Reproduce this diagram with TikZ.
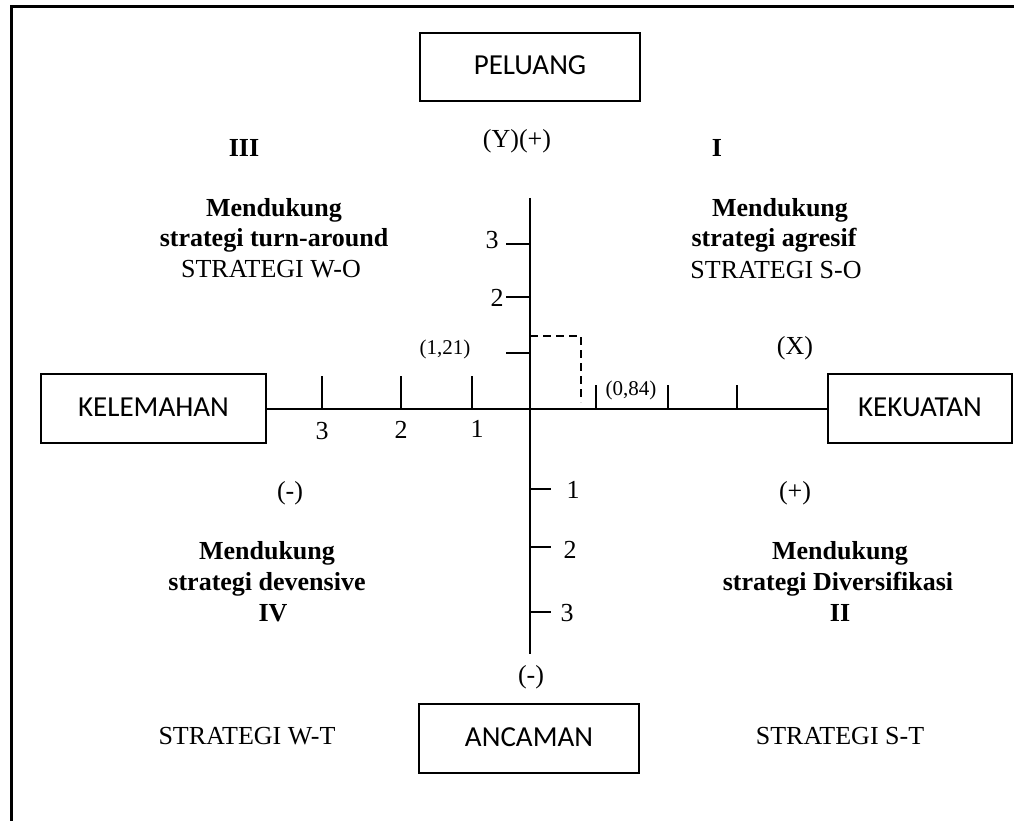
\documentclass[tikz,border=0pt]{standalone}
\usepackage{fontspec}
\setmainfont{Liberation Serif}
\newfontfamily\boxfont{Carlito}
\begin{document}
\begin{tikzpicture}[x=1pt,y=-1pt,
  box/.style={draw,line width=2pt,inner sep=0pt,font=\boxfont\fontsize{29}{32}\selectfont},
  txt/.style={inner sep=0pt,align=center,font=\fontsize{26}{30}\selectfont},
  btxt/.style={inner sep=0pt,align=center,font=\bfseries\fontsize{26}{30}\selectfont},
  small/.style={inner sep=0pt,font=\fontsize{21}{24}\selectfont},
  axis/.style={line width=2pt},
  tickline/.style={line width=1.8pt},
  dashline/.style={line width=2pt,dash pattern=on 8pt off 5pt}]
\useasboundingbox (0,0) rectangle (1014,821);
% frame (only top and left edges visible)
\draw[line width=3pt] (11,821) -- (11,7) -- (1014,7);
% boxes
\node[box,minimum width=220pt,minimum height=68pt] (pel) at (530,67) {\raisebox{3pt}{PELUANG}};
\node[box,minimum width=225pt,minimum height=69pt] (kel) at (153.5,408.5) {\raisebox{2pt}{KELEMAHAN}};
\node[box,minimum width=184pt,minimum height=69pt] (kek) at (920,408.5) {\raisebox{2pt}{KEKUATAN}};
\node[box,minimum width=220pt,minimum height=69pt] (anc) at (529,738.5) {\raisebox{3pt}{ANCAMAN}};
% axes
\coordinate (ytop) at (530,198);
\coordinate (ybot) at (530,654);
\draw[axis] (kel.east) -- (kek.west);
\draw[axis] (ytop) -- (ybot);
% ticks on Y (upper)
\draw[tickline] (506,244) -- (530,244);
\draw[tickline] (506,297) -- (530,297);
\draw[tickline] (506,353) -- (530,353);
% ticks on Y (lower)
\draw[tickline] (530,489) -- (551,489);
\draw[tickline] (530,547) -- (551,547);
\draw[tickline] (530,612) -- (551,612);
% ticks on X (left)
\draw[tickline] (322,376) -- (322,409);
\draw[tickline] (401,376) -- (401,409);
\draw[tickline] (472,376) -- (472,409);
% ticks on X (right)
\draw[tickline] (596,385) -- (596,409);
\draw[tickline] (668,385) -- (668,409);
\draw[tickline] (737,385) -- (737,409);
% dashed point
\draw[dashline] (530,336) -- (581,336) -- (581,402);
% tick labels
\node[txt] (y3) at (492,240) {3};
\node[txt] (y2) at (497,298) {2};
\node[txt] (yl1) at (573,490) {1};
\node[txt] (yl2) at (570,550) {2};
\node[txt] (yl3) at (567,613) {3};
\node[txt] (x3) at (322,431) {3};
\node[txt] (x2) at (401,430) {2};
\node[txt] (x1) at (477,429) {1};
\node[small] (p121) at (445,349) {(1,21)};
\node[small] (p084) at (631,390) {(0,84)};
% signs
\node[txt] (yplus) at (517,141) {(Y)(+)};
\node[txt] (yminus) at (531,677) {(-)};
\node[txt] (xlab) at (795,348) {(X)};
\node[txt] (lminus) at (290,493) {(-)};
\node[txt] (rplus) at (795,493) {(+)};
% quadrant numerals
\node[btxt] (q3) at (244,148) {III};
\node[btxt] (q1) at (717,148) {I};
% quadrant texts
\node[btxt] (m3) at (274,210) {Mendukung};
\node[btxt] (s3) at (274,240) {strategi turn-around};
\node[txt] (w3) at (271,269) {STRATEGI W-O};
\node[btxt] (m1) at (780,210) {Mendukung};
\node[btxt] (s1) at (774,240) {strategi agresif};
\node[txt] (w1) at (776,270) {STRATEGI S-O};
\node[btxt] (m4) at (267,553) {Mendukung};
\node[btxt] (s4) at (267,584) {strategi devensive};
\node[btxt] (q4) at (273,613) {IV};
\node[btxt] (m2) at (840,553) {Mendukung};
\node[btxt] (s2) at (838,584) {strategi Diversifikasi};
\node[btxt] (q2) at (840,613) {II};
\node[txt] (wt) at (247,736) {STRATEGI W-T};
\node[txt] (st) at (840,736) {STRATEGI S-T};
\end{tikzpicture}
\end{document}
